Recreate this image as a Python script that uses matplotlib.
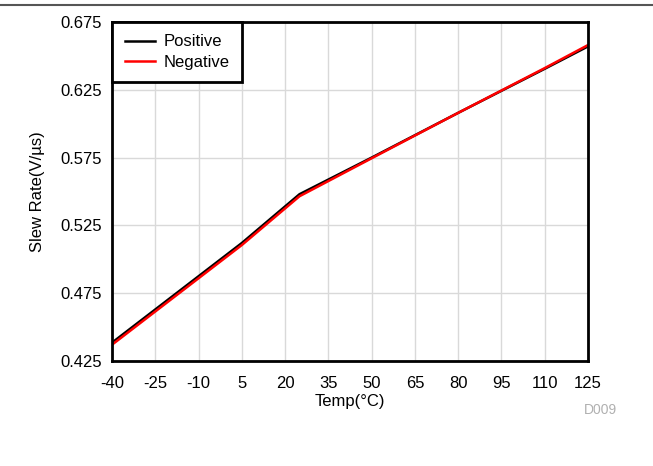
import numpy as np
import matplotlib.pyplot as plt
from matplotlib.lines import Line2D

plt.rcParams['font.family'] = ['Liberation Sans', 'DejaVu Sans']
plt.rcParams['axes.unicode_minus'] = False

# data
temp = [-40, -25, -10, 5, 25, 50, 80, 110, 125]
positive = [0.4385, 0.4630, 0.4875, 0.5120, 0.5480, 0.5750, 0.6080, 0.6405, 0.6570]
negative = [0.4370, 0.4615, 0.4860, 0.5105, 0.5465, 0.5745, 0.6080, 0.6410, 0.6580]

xticks = list(range(-40, 126, 15))
yticks = [0.425, 0.475, 0.525, 0.575, 0.625, 0.675]

fig = plt.figure(figsize=(6.53, 4.66), dpi=100)
ax = fig.add_axes([112 / 653, 1 - 361 / 466, 476 / 653, 339 / 466])

ax.plot(temp, positive, color='black', lw=1.8, label='Positive')
ax.plot(temp, negative, color='red', lw=1.8, label='Negative')

ax.set_xlim(-40, 125)
ax.set_ylim(0.425, 0.675)
ax.set_xticks(xticks)
ax.set_yticks(yticks)
ax.set_yticklabels([f'{v:.3f}' for v in yticks])
ax.tick_params(length=0, labelsize=12)
ax.tick_params(axis='x', pad=11)
ax.tick_params(axis='y', pad=7)
ax.grid(True, color='#d9d9d9', lw=1)
ax.set_axisbelow(True)
for s in ax.spines.values():
    s.set_linewidth(2)
    s.set_color('black')

ax.set_xlabel('Temp(°C)', fontsize=12, labelpad=2)
ax.set_ylabel('Slew Rate(V/µs)', fontsize=12, labelpad=11)

leg = ax.legend(loc='upper left', fontsize=12, frameon=True, fancybox=False,
                borderaxespad=0, handlelength=1.8, borderpad=0.75,
                labelspacing=0.32, handletextpad=0.55)
leg.get_frame().set_edgecolor('black')
leg.get_frame().set_linewidth(2)
leg.get_frame().set_alpha(1)

fig.add_artist(Line2D([0, 1], [1 - 4.5 / 466, 1 - 4.5 / 466], color='#555555', lw=1.5))
fig.text(600 / 653, 1 - 410 / 466, 'D009', color='#b0b0b0', fontsize=10, ha='center', va='center')

fig.savefig('out.png', dpi=100)
